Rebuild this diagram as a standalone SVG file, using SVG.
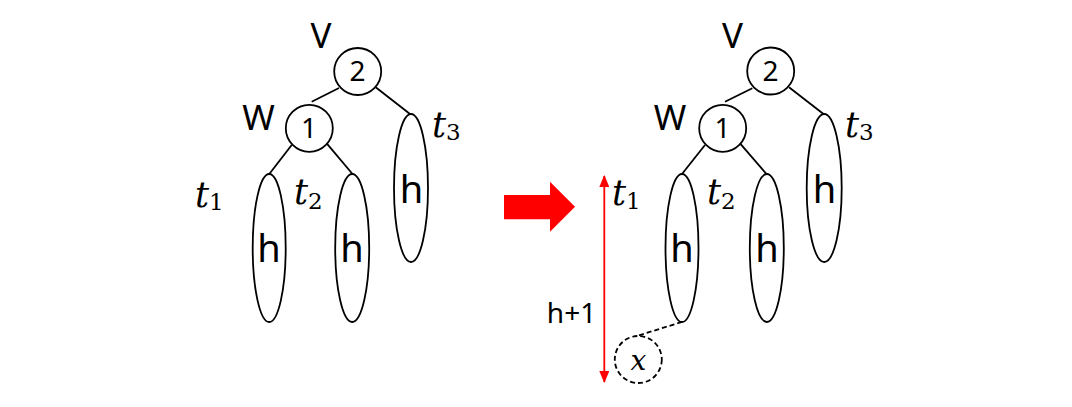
<svg xmlns="http://www.w3.org/2000/svg" width="1072" height="407" viewBox="0 0 1072 407">
<defs>
<style>
.n{fill:#fff;stroke:#000;stroke-width:1.8}
.e{stroke:#000;stroke-width:1.8;fill:none}
.lab{font-family:"Noto Sans","Liberation Sans",sans-serif;fill:#000;text-anchor:middle}
.big{font-size:35px}
.dig{font-size:28px}
.h{font-size:38px}
.m{font-family:"DejaVu Serif","Liberation Serif",serif;font-style:italic;font-size:35px;fill:#000}
.sub{font-style:normal;font-size:23px}
</style>
<marker id="ah" viewBox="0 0 12 10" refX="11" refY="5" markerWidth="12" markerHeight="10" markerUnits="userSpaceOnUse" orient="auto-start-reverse">
<path d="M0,0 L12,5 L0,10 Z" fill="#f00"/>
</marker>
</defs>
<rect width="1072" height="407" fill="#fff"/>
<g id="connectors">
<line class="e" x1="339" y1="88" x2="311.7" y2="101.7"/>
<line class="e" x1="375.7" y1="87.3" x2="410" y2="114"/>
<line class="e" x1="291.7" y1="145" x2="269.3" y2="174"/>
<line class="e" x1="326.7" y1="143.3" x2="352.5" y2="174"/>
<line class="e" x1="752.3" y1="88.3" x2="725" y2="101.7"/>
<line class="e" x1="789" y1="87.3" x2="823.5" y2="114"/>
<line class="e" x1="705" y1="145" x2="682" y2="174"/>
<line class="e" x1="740" y1="143.3" x2="766.5" y2="174"/>
<line class="e" x1="682" y1="322" x2="638.3" y2="335.5" stroke-dasharray="5,3"/>
</g>
<g id="left-V">
<circle class="n" cx="357.7" cy="71.5" r="23.5"/>
<text class="lab dig" x="357.5" y="81">2</text>
<text class="lab big" x="321" y="48">V</text>
</g>
<g id="left-W">
<circle class="n" cx="309.3" cy="128.3" r="23.5"/>
<text class="lab dig" x="309" y="138">1</text>
<text class="lab big" x="258.5" y="130">W</text>
</g>
<g id="left-t1">
<ellipse class="n" cx="269.2" cy="248" rx="16.5" ry="74"/>
<text class="lab h" x="269" y="262">h</text>
<text class="m" x="195" y="207">t<tspan class="sub" dy="3">1</tspan></text>
</g>
<g id="left-t2">
<ellipse class="n" cx="352.2" cy="248" rx="17" ry="74"/>
<text class="lab h" x="352" y="262">h</text>
<text class="m" x="294" y="204">t<tspan class="sub" dy="5">2</tspan></text>
</g>
<g id="left-t3">
<ellipse class="n" cx="411" cy="188" rx="17" ry="74"/>
<text class="lab h" x="411.5" y="203">h</text>
<text class="m" x="432" y="137">t<tspan class="sub" dy="3">3</tspan></text>
</g>
<g id="big-arrow">
<path d="M504,195 L550,195 L550,181.7 L575,206.7 L550,231.7 L550,219.3 L504,219.3 Z" fill="#f00"/>
</g>
<g id="height-arrow">
<line x1="604.3" y1="176" x2="604.3" y2="382" stroke="#f00" stroke-width="1.8" marker-start="url(#ah)" marker-end="url(#ah)"/>
<text class="lab" x="571.5" y="322.5" style="font-size:28px">h+1</text>
</g>
<g id="right-V">
<circle class="n" cx="770.7" cy="71" r="23.5"/>
<text class="lab dig" x="770.5" y="80.5">2</text>
<text class="lab big" x="732.5" y="48">V</text>
</g>
<g id="right-W">
<circle class="n" cx="722.7" cy="128.3" r="23.5"/>
<text class="lab dig" x="722.5" y="138">1</text>
<text class="lab big" x="670" y="130">W</text>
</g>
<g id="right-t1">
<ellipse class="n" cx="682" cy="248" rx="16.5" ry="74"/>
<text class="lab h" x="682" y="262">h</text>
<text class="m" x="612" y="205">t<tspan class="sub" dy="4">1</tspan></text>
</g>
<g id="right-t2">
<ellipse class="n" cx="766.8" cy="248" rx="17" ry="74"/>
<text class="lab h" x="767" y="262">h</text>
<text class="m" x="707" y="204">t<tspan class="sub" dy="5">2</tspan></text>
</g>
<g id="right-t3">
<ellipse class="n" cx="824.2" cy="188" rx="17.5" ry="74"/>
<text class="lab h" x="824.5" y="203">h</text>
<text class="m" x="845" y="137">t<tspan class="sub" dy="3">3</tspan></text>
</g>
<g id="x-node">
<circle cx="638.3" cy="359.5" r="23.5" fill="#fff" stroke="#000" stroke-width="1.8" stroke-dasharray="5,3"/>
<text class="m" x="638.5" y="370" text-anchor="middle" style="font-size:28px">x</text>
</g>
</svg>
